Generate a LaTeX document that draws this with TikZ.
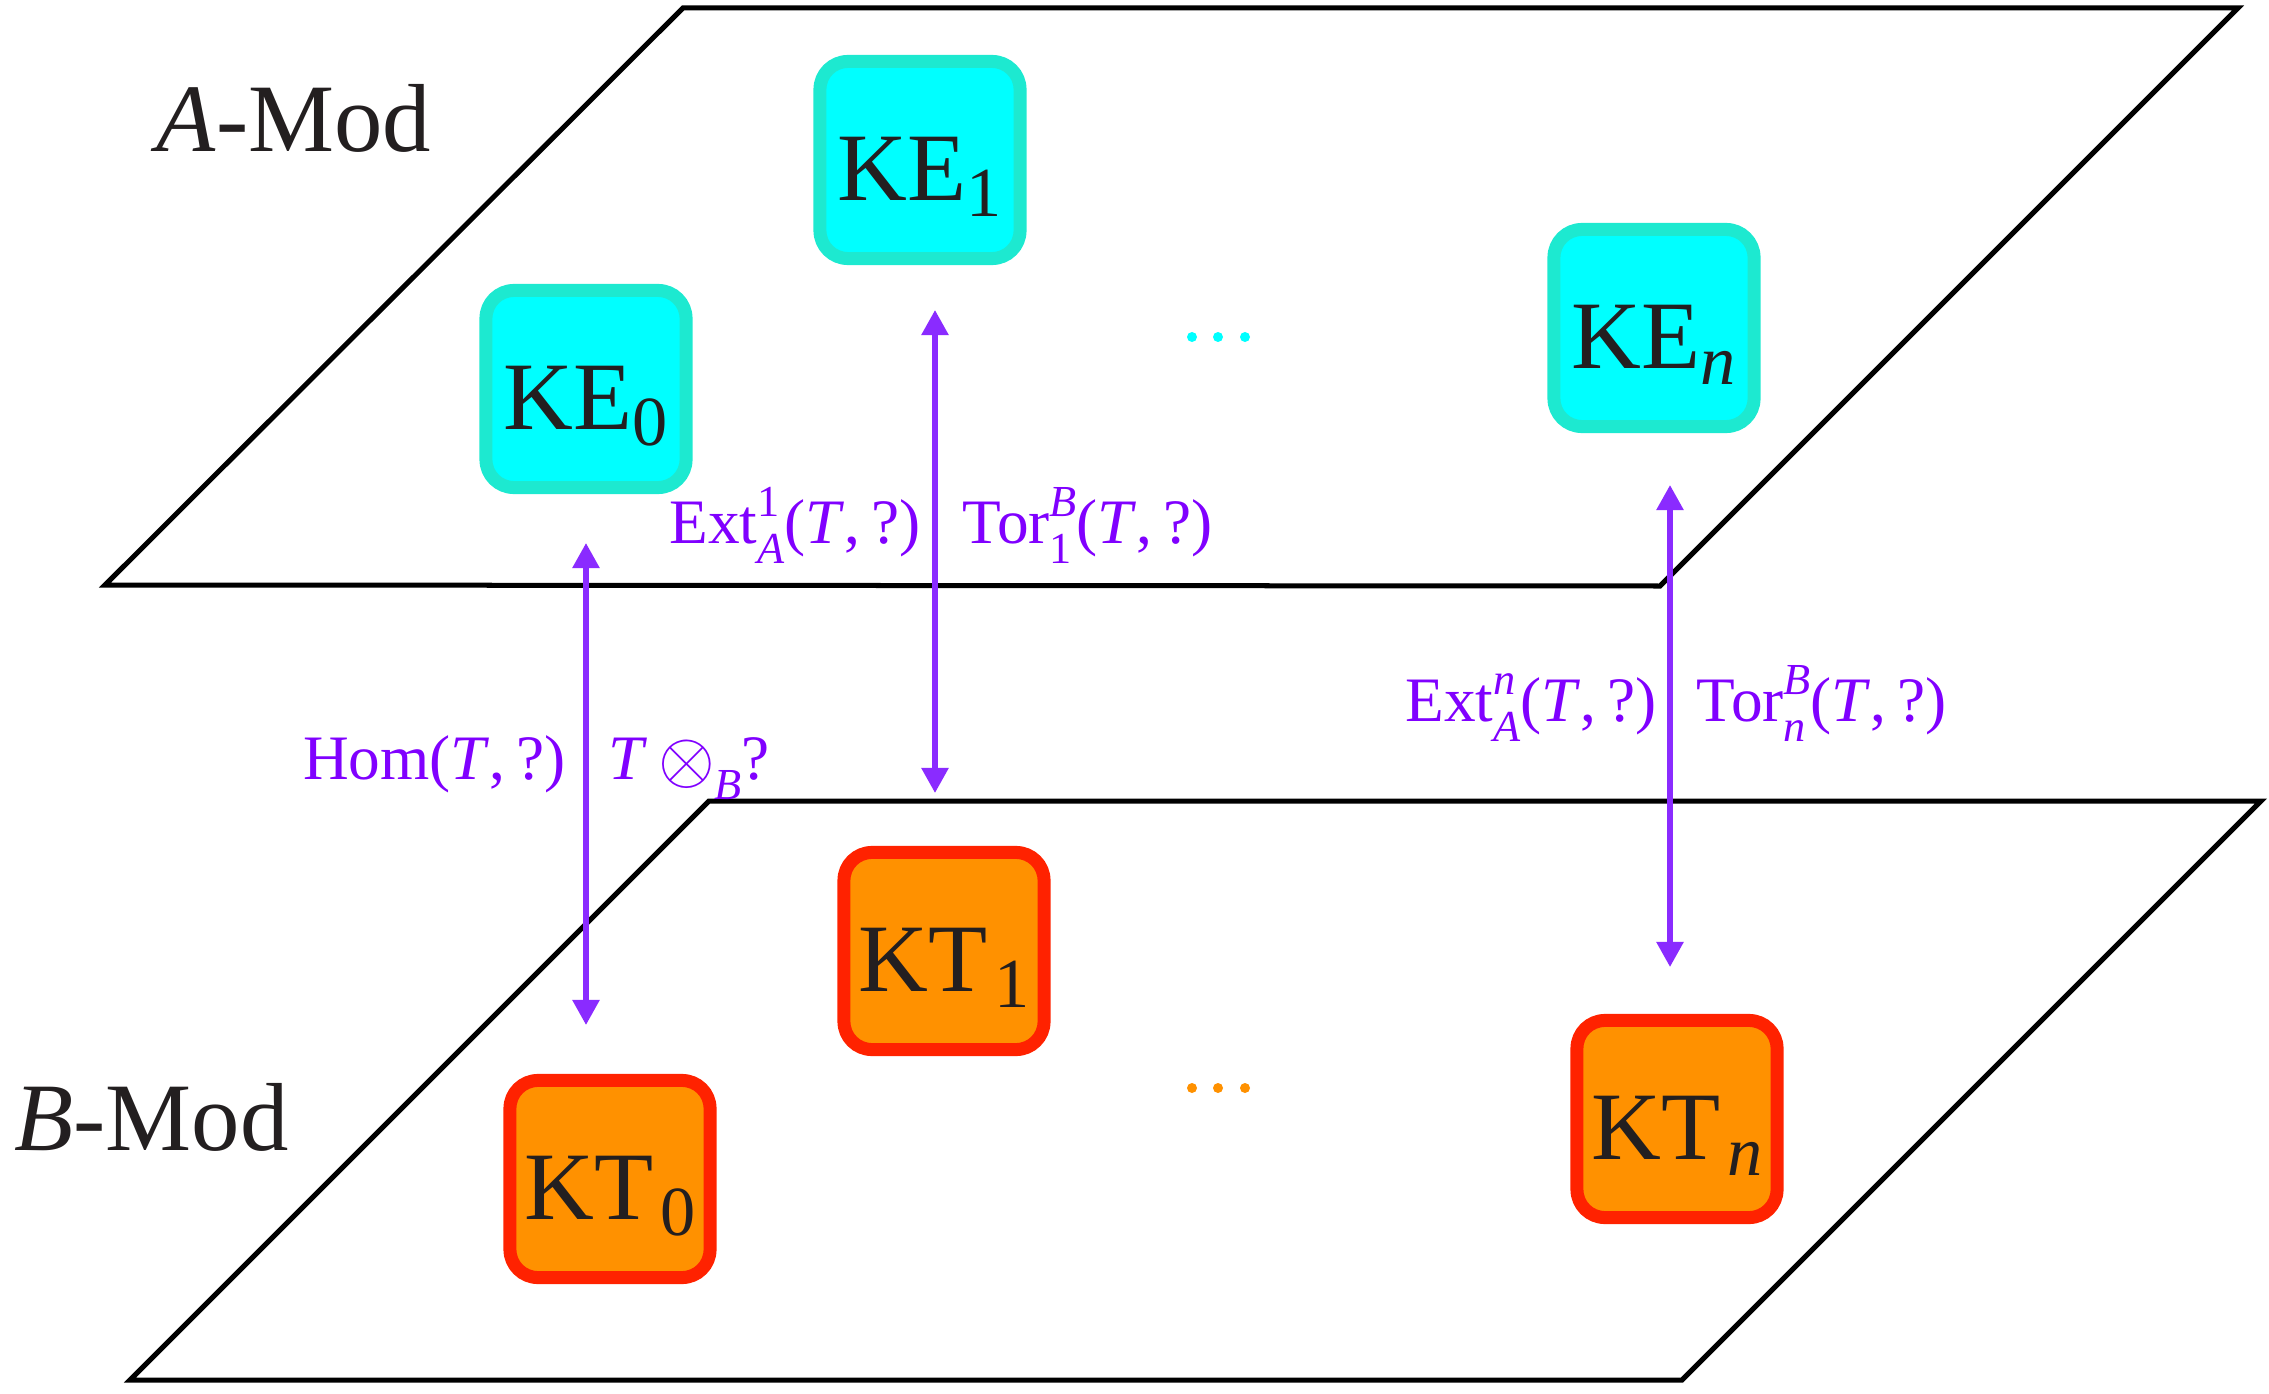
\documentclass[tikz,border=0pt]{standalone}
\usepackage{fontspec}
\setmainfont{Liberation Serif}
\usetikzlibrary{arrows.meta}
\definecolor{txt}{HTML}{231F20}
\definecolor{cyanfill}{HTML}{00FFFF}
\definecolor{cyanedge}{HTML}{1DE9D0}
\definecolor{orfill}{HTML}{FF9100}
\definecolor{oredge}{HTML}{FF2200}
\definecolor{lblcol}{HTML}{8000FF}
\definecolor{arrcol}{HTML}{8A2BFF}
\newcommand\bigfnt{\fontsize{27.5}{30}\selectfont}
\newcommand\lblfnt{\fontsize{18}{20}\selectfont}
\newcommand\scrfnt{\fontsize{12.6}{14}\selectfont}
\newcommand\bsub[1]{\raisebox{-0.16cm}{\fontsize{20}{22}\selectfont #1}}
\newcommand\boxtext[1]{\smash{\raisebox{-0.40cm}{#1}}}
\newcommand\myotimes{\raisebox{-0.05em}{\scalebox{1.2}{$\otimes$}}}
\newlength\mysupw
\newlength\mysubw
\newcommand\supsub[2]{%
  \settowidth\mysupw{\scrfnt #1}\settowidth\mysubw{\scrfnt #2}%
  \ifdim\mysupw>\mysubw \mysubw=\mysupw\fi
  \makebox[\mysubw][l]{\rlap{\raisebox{0.42em}{\scrfnt #1}}\raisebox{-0.32em}{\scrfnt #2}}}
\tikzset{
  plane/.style={draw=black, line width=0.05cm},
  kebox/.style={draw=cyanedge, fill=cyanfill, line width=0.13cm, rounded corners=0.28cm,
    minimum width=2.0cm, minimum height=1.97cm, inner sep=0, text=txt, font=\bigfnt},
  ktbox/.style={draw=oredge, fill=orfill, line width=0.13cm, rounded corners=0.28cm,
    minimum width=2.0cm, minimum height=1.97cm, inner sep=0, text=txt, font=\bigfnt},
  modlbl/.style={anchor=base west, inner sep=0, text=txt, font=\bigfnt},
  funlbl/.style={inner sep=0, text=lblcol, font=\lblfnt},
  biarrow/.style={draw=arrcol, line width=0.055cm,
    {Triangle[length=0.25cm,width=0.26cm]}-{Triangle[length=0.25cm,width=0.26cm]}},
  cdot/.style={circle, fill=cyanfill, inner sep=0, minimum size=0.1cm},
  odot/.style={circle, fill=orfill, inner sep=0, minimum size=0.1cm},
}
\begin{document}
\begin{tikzpicture}[x=0.01cm,y=-0.01cm]
\useasboundingbox (0,0) rectangle (2269,1394);
% planes
\draw[plane] (105,585) -- (683,8) -- (2238,8) -- (1660,586) -- cycle;
\draw[plane] (130,1380) -- (709,801) -- (2261,801) -- (1682,1380) -- cycle;
% plane labels
\node[modlbl] (amod) at (156,152) {\textit{A}-Mod};
\node[modlbl] (bmod) at (14,1150) {\textit{B}-Mod};
% boxes
\node[kebox] (ke0) at (586,389) {\boxtext{KE\bsub{0}}};
\node[kebox] (ke1) at (920,160) {\boxtext{KE\bsub{1}}};
\node[kebox] (ken) at (1654,328) {\boxtext{KE\bsub{\textit{n}}}};
\node[ktbox] (kt0) at (610,1179) {\boxtext{KT\kern2pt\bsub{0}}};
\node[ktbox] (kt1) at (944,951) {\boxtext{KT\kern2pt\bsub{1}}};
\node[ktbox] (ktn) at (1677,1119) {\boxtext{KT\kern2pt\bsub{\textit{n}}}};
% dots
\node[cdot] (c1) at (1192,337) {};
\node[cdot] (c2) at (1218,337) {};
\node[cdot] (c3) at (1245,337) {};
\node[odot] (o1) at (1192,1088) {};
\node[odot] (o2) at (1218,1088) {};
\node[odot] (o3) at (1245,1088) {};
% arrow end points
\coordinate (a0t) at (586,543);
\coordinate (a0b) at (586,1025);
\coordinate (a1t) at (935,310);
\coordinate (a1b) at (935,793);
\coordinate (ant) at (1670,485);
\coordinate (anb) at (1670,967);
\draw[biarrow] (a0t) -- (a0b);
\draw[biarrow] (a1t) -- (a1b);
\draw[biarrow] (ant) -- (anb);
% functor labels
\node[funlbl, anchor=base east] (hom) at (566,779) {Hom(\textit{T}\/,\,?)};
\node[funlbl, anchor=base west] (tens) at (608,779) {\textit{T}\,\myotimes\supsub{}{\textit{B}}?};
\node[funlbl, anchor=base east] (ext1) at (921,543) {Ext\supsub{1}{\textit{A}}(\textit{T}\/,\,?)};
\node[funlbl, anchor=base west] (tor1) at (962,543) {Tor\supsub{\textit{B}}{1}(\textit{T}\/,\,?)};
\node[funlbl, anchor=base east] (extn) at (1657,721) {Ext\supsub{\textit{n}}{\textit{A}}(\textit{T}\/,\,?)};
\node[funlbl, anchor=base west] (torn) at (1696,721) {Tor\supsub{\textit{B}}{\textit{n}}(\textit{T}\/,\,?)};
\end{tikzpicture}
\end{document}
